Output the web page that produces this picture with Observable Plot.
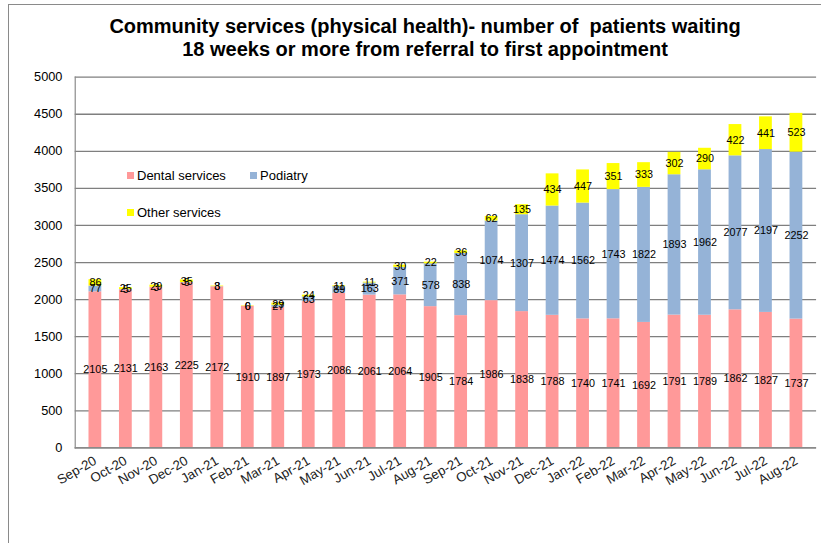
<!DOCTYPE html>
<html>
<head>
<meta charset="utf-8">
<script src="https://cdn.jsdelivr.net/npm/d3@7"></script>
<script src="https://cdn.jsdelivr.net/npm/@observablehq/plot@0.6"></script>
<style>
  html, body { margin: 0; padding: 0; background: #fff; overflow: hidden; }
  #wrap { position: relative; width: 821px; height: 543px; overflow: hidden; font-family: "Liberation Sans", Arial, sans-serif; }
  #frame { position: absolute; left: 8px; top: 4px; width: 900px; height: 700px; border-left: 1px solid #8a8a8a; border-top: 1px solid #8a8a8a; }
  #title { position: absolute; left: 0; top: 15px; width: 850px; text-align: center; font-weight: bold; font-size: 20px; line-height: 23px; color: #000; white-space: pre; }
  #chart { position: absolute; left: 0; top: 0; }
  .leg { position: absolute; font-size: 13px; color: #000; white-space: nowrap; }
  .sw { display: inline-block; width: 7px; height: 7px; margin-right: 3px; vertical-align: 1px; }
</style>
</head>
<body>
<div id="wrap">
  <div id="frame"></div>
  <div id="chart"></div>
  <div id="title">Community services (physical health)- number of  patients waiting
18 weeks or more from referral to first appointment</div>
  <div id="legend"></div>
</div>
<script>
const months = ["Sep-20","Oct-20","Nov-20","Dec-20","Jan-21","Feb-21","Mar-21","Apr-21","May-21","Jun-21","Jul-21","Aug-21","Sep-21","Oct-21","Nov-21","Dec-21","Jan-22","Feb-22","Mar-22","Apr-22","May-22","Jun-22","Jul-22","Aug-22"];
const seriesNames = ["Dental services", "Podiatry", "Other services"];
const seriesColors = ["#ff9999", "#95b3d7", "#ffff00"];
const dental = [2105,2131,2163,2225,2172,1910,1897,1973,2086,2061,2064,1905,1784,1986,1838,1788,1740,1741,1692,1791,1789,1862,1827,1737];
const podiatry = [77,5,3,5,3,0,27,63,89,163,371,578,838,1074,1307,1474,1562,1743,1822,1893,1962,2077,2197,2252];
const other = [86,25,29,35,8,6,29,24,11,11,30,22,36,62,135,434,447,351,333,302,290,422,441,523];
const yTicks = [0,500,1000,1500,2000,2500,3000,3500,4000,4500,5000];

const values = [dental, podiatry, other];
const data = [];
seriesNames.forEach((s, i) => months.forEach((m, j) => data.push({month: m, series: s, value: values[i][j]})));

const stackOpts = {x: "month", y: "value", z: "series", order: seriesNames};

const chart = Plot.plot({
  width: 835,
  height: 543,
  marginLeft: 76,
  marginRight: 5,
  marginTop: 78,
  marginBottom: 88,
  style: {fontFamily: "'Liberation Sans', Arial, sans-serif", background: "transparent", overflow: "visible"},
  x: {domain: months, paddingInner: 0.585, paddingOuter: 0.29, label: null},
  y: {domain: [0, 5000], label: null},
  color: {domain: seriesNames, range: seriesColors},
  marks: [
    Plot.gridY(yTicks, {stroke: "#7f7f7f", strokeOpacity: 1, strokeWidth: 1.3}),
    Plot.barY(data, Plot.stackY({...stackOpts, fill: "series"})),
    Plot.text(data, Plot.stackY({...stackOpts, text: d => String(d.value), fontSize: 11, fill: "#000"})),
    Plot.axisY({ticks: yTicks, tickFormat: d => String(d), tickSize: 0, tickPadding: 13, fontSize: 13, fill: "#000", label: null}),
    Plot.axisX({tickSize: 0, tickPadding: 12, tickRotate: -30, fontSize: 13.5, fill: "#222", label: null}),
    Plot.frame({anchor: "left", stroke: "#8a8a8a", strokeWidth: 1.2}),
    Plot.ruleY([0], {stroke: "#8a8a8a", strokeWidth: 1.5})
  ]
});
document.getElementById("chart").appendChild(chart);

const legendPos = [[127, 168], [250, 168], [127, 205]];
const legend = document.getElementById("legend");
seriesNames.forEach((s, i) => {
  const el = document.createElement("div");
  el.className = "leg";
  el.style.left = legendPos[i][0] + "px";
  el.style.top = legendPos[i][1] + "px";
  el.innerHTML = `<span class="sw" style="background:${seriesColors[i]}"></span>${s}`;
  legend.appendChild(el);
});
</script>
</body>
</html>
